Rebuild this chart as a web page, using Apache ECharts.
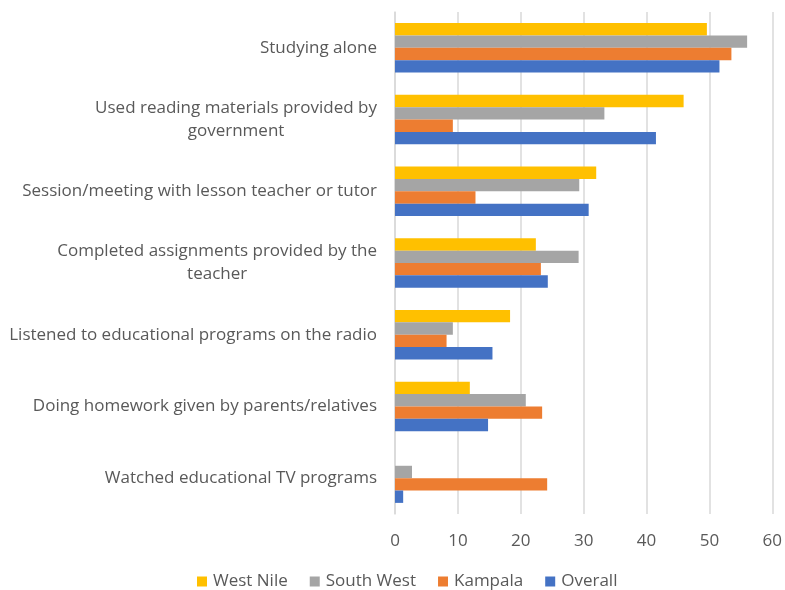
<!DOCTYPE html>
<html>
<head>
<meta charset="utf-8">
<script src="https://cdn.jsdelivr.net/npm/echarts@6/dist/echarts.min.js"></script>
<style>
    html, body { margin: 0; padding: 0; background: #fff; }
    #chart { width: 785px; height: 590px; }
</style>
</head>
<body>
<div id="chart"></div>
<script>
// categories, top to bottom
const categories = [
    'Studying alone',
    'Used reading materials provided by\ngovernment',
    'Session/meeting with lesson teacher or tutor',
    'Completed assignments provided by the\nteacher',
    'Listened to educational programs on the radio',
    'Doing homework given by parents/relatives',
    'Watched educational TV programs'
];

const westNile  = [49.6, 45.9, 32.0, 22.4, 18.3, 11.9, 0];
const southWest = [56.0, 33.3, 29.3, 29.2, 9.2, 20.8, 2.7];
const kampala   = [53.5, 9.2, 12.8, 23.2, 8.2, 23.4, 24.2];
const overall   = [51.6, 41.5, 30.8, 24.3, 15.5, 14.8, 1.3];

const xTicks = [0, 10, 20, 30, 40, 50, 60];

const seriesNames = ['West Nile', 'South West', 'Kampala', 'Overall'];
const seriesColors = ['#FFC000', '#A5A5A5', '#ED7D31', '#4472C4'];
const seriesData = [westNile, southWest, kampala, overall];

const fontFam = '"Open Sans", sans-serif';
const textColor = '#595959';
const fSize = 17;

let chart;

function init() {
    chart = echarts.init(document.getElementById('chart'));

    let options = {
        animation: false,
        grid: {
            left: 395,
            right: 12,
            top: 12,
            bottom: 76
        },
        legend: {
            data: seriesNames,
            bottom: -5,
            left: 192,
            itemWidth: 10,
            itemHeight: 10,
            itemGap: 22,
            itemStyle: { borderWidth: 0 },
            icon: 'rect',
            textStyle: {
                color: textColor,
                fontSize: fSize,
                fontFamily: fontFam,
                padding: [0, 0, 0, 1]
            }
        },
        xAxis: {
            type: 'value',
            min: xTicks[0],
            max: xTicks[xTicks.length - 1],
            interval: 10,
            axisLine: { show: false },
            axisTick: { show: false },
            axisLabel: {
                color: textColor,
                fontSize: fSize,
                fontFamily: fontFam,
                margin: 19
            },
            splitLine: {
                lineStyle: { color: '#d9d9d9', width: 1.5 }
            }
        },
        yAxis: {
            type: 'category',
            inverse: true,
            data: categories,
            axisLine: {
                show: true,
                lineStyle: { color: '#d9d9d9', width: 1.5 }
            },
            axisTick: { show: false },
            axisLabel: {
                margin: 18,
                color: textColor,
                fontSize: fSize,
                fontFamily: fontFam,
                lineHeight: 23,
                formatter: function (value) {
                    // centre each line inside the right-aligned block
                    return value.split('\n').map(l => '{c|' + l + '}').join('\n');
                },
                rich: {
                    c: {
                        align: 'center',
                        color: textColor,
                        fontSize: fSize,
                        fontFamily: fontFam,
                        lineHeight: 23
                    }
                }
            }
        },
        series: seriesNames.map((name, i) => ({
            name: name,
            type: 'bar',
            data: seriesData[i],
            barGap: '0%',
            barCategoryGap: '31%',
            itemStyle: { color: seriesColors[i] }
        }))
    };

    chart.setOption(options);
}

init();
</script>
</body>
</html>
